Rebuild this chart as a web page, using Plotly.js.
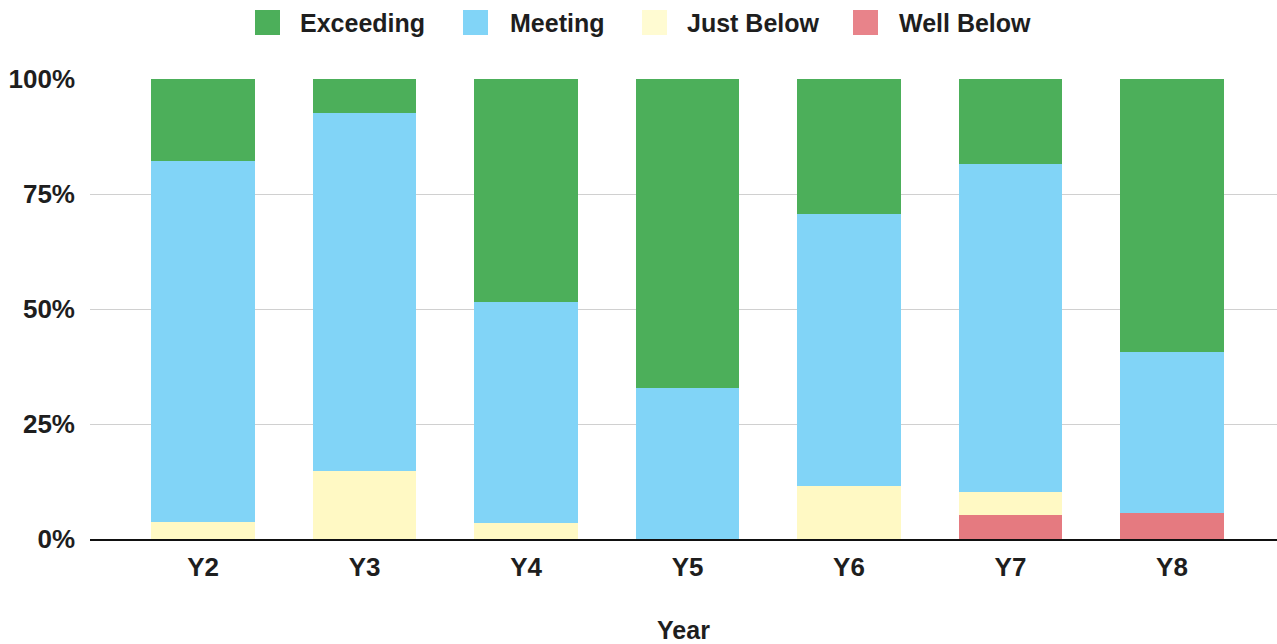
<!DOCTYPE html>
<html>
<head>
<meta charset="utf-8">
<script src="https://cdn.plot.ly/plotly-3.0.1.min.js"></script>
<style>html,body{margin:0;padding:0;background:#fff;}#chart{width:1277px;height:644px;}</style>
</head>
<body>
<div id="chart"></div>
<script>
const years = ["Y2","Y3","Y4","Y5","Y6","Y7","Y8"];
const wellBelow = [0, 0, 0, 0, 0, 5.2, 5.6];
const justBelow = [3.7, 14.8, 3.5, 0, 11.5, 5.0, 0];
const meeting = [78.5, 77.8, 48.0, 32.8, 59.2, 71.3, 35.1];
const exceeding = [17.8, 7.4, 48.5, 67.2, 29.3, 18.5, 59.3];

const seriesNames = ["Well Below","Just Below","Meeting","Exceeding"];
const seriesValues = [wellBelow, justBelow, meeting, exceeding];
const seriesColors = ["#e57a80","#fff9c4","#81d4f7","#4caf5a"];
const legendSwatch = ["#e8838a","#fffbd2","#81d4f7","#4caf5a"];

const fam = "Liberation Sans, Arial, sans-serif";
const txt = "#1e1e1e";

const traces = seriesNames.map((name, i) => ({
  type: "bar",
  name: name,
  x: years,
  y: seriesValues[i].map(v => v / 100),
  marker: {color: seriesColors[i], line: {width: 0}},
  hoverinfo: "x+y+name"
}));

// Custom legend (order: Exceeding, Meeting, Just Below, Well Below)
const L = 90, W = 1187, B = 539, H = 460;
const px = p => (p - L) / W;
const py = p => (B - p) / H;
const legendOrder = [3, 2, 1, 0];
const swatchX = [255, 463, 642, 853];
const textX = [298, 508, 685, 897];
const shapes = [];
const annotations = [];
legendOrder.forEach((si, k) => {
  shapes.push({
    type: "rect", xref: "paper", yref: "paper",
    x0: px(swatchX[k]), x1: px(swatchX[k] + 25),
    y0: py(35), y1: py(10),
    fillcolor: legendSwatch[si], line: {width: 0}
  });
  annotations.push({
    xref: "paper", yref: "paper",
    x: px(textX[k]), y: py(22.5),
    xanchor: "left", yanchor: "middle",
    text: seriesNames[si], showarrow: false,
    font: {family: fam, size: 25, color: txt, weight: "bold"}
  });
});

const layout = {
  width: 1277, height: 644,
  margin: {l: L, r: 0, t: 79, b: 105},
  paper_bgcolor: "#fff", plot_bgcolor: "#fff",
  barmode: "stack",
  bargap: 0.36,
  font: {family: fam, size: 26, color: txt},
  showlegend: false,
  shapes: shapes,
  annotations: annotations,
  xaxis: {
    range: [-0.7, 6.65],
    showline: true, linecolor: "#111", linewidth: 2,
    ticks: "", showgrid: false,
    tickfont: {family: fam, size: 26, color: txt, weight: "bold"},
    ticklabelstandoff: 4,
    title: {text: "Year", font: {family: fam, size: 25, color: txt, weight: "bold"}, standoff: 46}
  },
  yaxis: {
    range: [0, 1],
    tickvals: [0, 0.25, 0.5, 0.75, 1],
    ticktext: ["0%","25%","50%","75%","100%"],
    showgrid: true, gridcolor: "#d0d0d0", gridwidth: 1,
    zeroline: false, showline: false, ticks: "",
    tickfont: {family: fam, size: 26, color: txt, weight: "bold"},
    ticklabelstandoff: 14
  }
};

Plotly.newPlot("chart", traces, layout, {displayModeBar: false, staticPlot: true});
</script>
</body>
</html>
